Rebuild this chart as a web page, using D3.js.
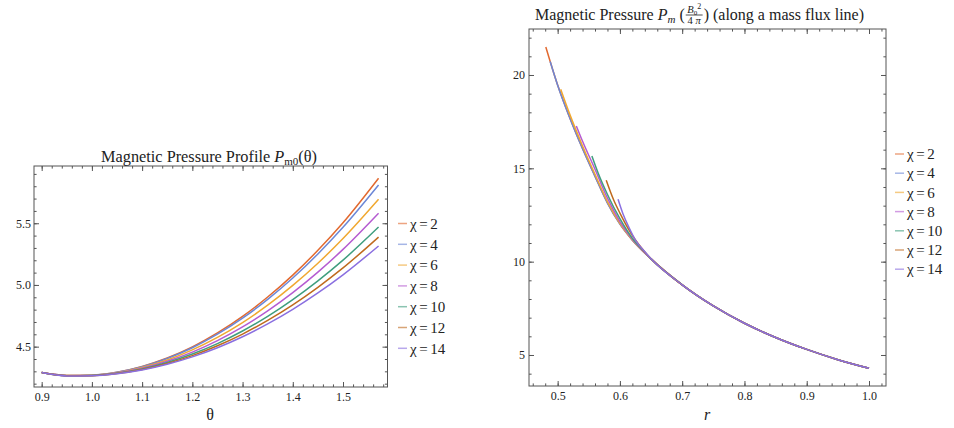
<!DOCTYPE html>
<html>
<head>
<meta charset="utf-8">
<script src="https://cdn.jsdelivr.net/npm/d3@7"></script>
<style>
body{margin:0;background:#fff}
svg{display:block}
text{font-family:"Liberation Serif","Times New Roman",serif;fill:#222}
</style>
</head>
<body>
<div id="chart"></div>
<script>
var chiValues = [2,4,6,8,10,12,14];
var colors = ["#e2692f","#6c87d6","#f0a830","#b55bd1","#3f9e7e","#bf6a1e","#8a6fe0"];

// left panel : P_m0(theta)
var theta = [0.9,0.95,1.0,1.05,1.1,1.15,1.2,1.25,1.3,1.35,1.4,1.45,1.5,1.5708];
var pm0Chi2  = [4.290,4.267,4.269,4.293,4.340,4.408,4.498,4.611,4.745,4.902,5.080,5.281,5.504,5.865];
var pm0Chi4  = [4.290,4.267,4.269,4.292,4.337,4.404,4.491,4.601,4.731,4.883,5.056,5.251,5.467,5.810];
var pm0Chi6  = [4.290,4.266,4.268,4.289,4.331,4.392,4.474,4.575,4.695,4.836,4.996,5.176,5.376,5.694];
var pm0Chi8  = [4.290,4.265,4.266,4.286,4.325,4.381,4.456,4.549,4.660,4.790,4.938,5.104,5.288,5.581];
var pm0Chi10 = [4.290,4.264,4.266,4.284,4.319,4.371,4.440,4.525,4.627,4.745,4.881,5.033,5.201,5.469];
var pm0Chi12 = [4.290,4.264,4.265,4.282,4.315,4.363,4.427,4.507,4.602,4.713,4.839,4.981,5.138,5.388];
var pm0Chi14 = [4.290,4.263,4.265,4.281,4.311,4.357,4.417,4.491,4.580,4.684,4.802,4.935,5.082,5.316];
var thetaTicks = [0.9,1.0,1.1,1.2,1.3,1.4,1.5];
var pm0Ticks = [4.5,5.0,5.5];

// right panel : P_m along a mass flux line
var rTail = [0.65,0.70,0.75,0.80,0.85,0.90,0.95,1.0];
var pTail = [10.15,8.76,7.63,6.70,5.94,5.30,4.75,4.29];
var headChi2  = [[0.481,21.5],[0.50,19.46],[0.52,17.67],[0.54,16.06],[0.56,14.58],[0.58,13.15],[0.60,12.02],[0.62,11.16]];
var headChi4  = [[0.488,20.72],[0.50,19.45],[0.52,17.66],[0.54,16.05],[0.56,14.57],[0.58,13.14],[0.60,12.01],[0.62,11.15]];
var headChi6  = [[0.505,19.23],[0.52,17.85],[0.54,16.2],[0.56,14.68],[0.58,13.22],[0.60,12.05],[0.62,11.16]];
var headChi8  = [[0.530,17.27],[0.54,16.45],[0.56,14.95],[0.58,13.4],[0.60,12.15],[0.62,11.2]];
var headChi10 = [[0.555,15.66],[0.565,14.75],[0.58,13.6],[0.60,12.3],[0.62,11.25],[0.64,10.5]];
var headChi12 = [[0.578,14.36],[0.59,13.3],[0.60,12.6],[0.62,11.4],[0.64,10.52]];
var headChi14 = [[0.597,13.34],[0.605,12.55],[0.615,11.8],[0.625,11.15],[0.64,10.53]];
var rTicks = [0.5,0.6,0.7,0.8,0.9,1.0];
var pmTicks = [5,10,15,20];

var svg = d3.select("#chart").append("svg").attr("width",954).attr("height",428);

function minors(domain, step){
    var out = [];
    var start = Math.ceil(domain[0]/step - 1e-6);
    for(var k=start; k*step<=domain[1]+1e-9; k++){ out.push(+(k*step).toFixed(4)); }
    return out;
}

// frame with inward ticks on the four sides, labels only bottom and left
function drawFrame(x, y, xMajor, yMajor, xStep, yStep, fx, fy, yPad){
    var g = svg.append("g");
    var x0 = x.range()[0], x1 = x.range()[1], y0 = y.range()[0], y1 = y.range()[1];
    var sides = [
        {mk: function(){return d3.axisBottom(x);}, tr: "translate(0,"+y0+")", major: xMajor, step: xStep, dom: x.domain(), fmt: fx, pad: 5.3},
        {mk: function(){return d3.axisTop(x);}, tr: "translate(0,"+y1+")", major: xMajor, step: xStep, dom: x.domain(), fmt: null, pad: 3},
        {mk: function(){return d3.axisLeft(y);}, tr: "translate("+x0+",0)", major: yMajor, step: yStep, dom: y.domain(), fmt: fy, pad: yPad},
        {mk: function(){return d3.axisRight(y);}, tr: "translate("+x1+",0)", major: yMajor, step: yStep, dom: y.domain(), fmt: null, pad: 3}
    ];
    sides.forEach(function(s){
        g.append("g").attr("transform", s.tr)
            .call(s.mk().tickValues(minors(s.dom, s.step)).tickSize(-2.6).tickFormat(""))
            .call(function(a){ a.select(".domain").remove(); a.selectAll("line").attr("stroke","#555"); });
        g.append("g").attr("transform", s.tr)
            .call(s.mk().tickValues(s.major).tickSize(-5).tickPadding(s.pad).tickFormat(s.fmt ? s.fmt : ""))
            .call(function(a){
                a.select(".domain").remove();
                a.selectAll("line").attr("stroke","#555");
                a.attr("font-family",null);
                a.selectAll("text").style("font-family",'"Liberation Serif",serif').style("font-size","12px").attr("fill","#222");
            });
    });
    g.append("rect").attr("x",x0).attr("y",y1).attr("width",x1-x0).attr("height",y0-y1)
        .attr("fill","none").attr("stroke","#555").attr("stroke-width",1);
}

function drawLegend(x, y, step){
    var lg = svg.append("g");
    chiValues.forEach(function(v,i){
        lg.append("line").attr("x1",x).attr("x2",x+9).attr("y1",y+i*step).attr("y2",y+i*step)
            .attr("stroke",colors[i]).attr("stroke-width",1.5).attr("opacity",0.6);
        var t = lg.append("text").attr("x",x+12).attr("y",y+i*step).attr("dy","0.35em")
            .style("font-size","15px");
        t.append("tspan").text("χ");
        t.append("tspan").attr("dx",2.5).text("=");
        t.append("tspan").attr("dx",2.5).text(v);
    });
}

// ---- left panel
var xL = d3.scaleLinear().domain([0.8847,1.5886]).range([34,387.5]);
var yL = d3.scaleLinear().domain([4.173,5.964]).range([387,166]);
var fmt1 = d3.format(".1f");
drawFrame(xL, yL, thetaTicks, pm0Ticks, 0.02, 0.1, fmt1, fmt1, 3);

var pm0Series = [pm0Chi2,pm0Chi4,pm0Chi6,pm0Chi8,pm0Chi10,pm0Chi12,pm0Chi14];
var lineL = d3.line().x(function(d){return xL(d[0]);}).y(function(d){return yL(d[1]);}).curve(d3.curveMonotoneX);
pm0Series.forEach(function(vals,i){
    var pts = theta.map(function(t,j){ return [t, vals[j]]; });
    svg.append("path").attr("d", lineL(pts)).attr("fill","none")
        .attr("stroke",colors[i]).attr("stroke-width",1.5);
});

var tl = svg.append("text").attr("x",209).attr("y",161.5).attr("text-anchor","middle").style("font-size","16.3px");
tl.append("tspan").text("Magnetic Pressure Profile ");
tl.append("tspan").style("font-style","italic").text("P");
tl.append("tspan").attr("dy",3).style("font-size","11px").text("m0");
tl.append("tspan").attr("dy",-3).text("(θ)");
svg.append("text").attr("x",210).attr("y",420).attr("text-anchor","middle").style("font-size","16px").text("θ");
drawLegend(398, 223.5, 20.8);

// ---- right panel
var xR = d3.scaleLinear().domain([0.454,1.0273]).range([529,886]);
var yR = d3.scaleLinear().domain([3.339,22.464]).range([386,29]);
drawFrame(xR, yR, rTicks, pmTicks, 0.02, 1, fmt1, d3.format("d"), 4);

var lineR = d3.line().x(function(d){return xR(d[0]);}).y(function(d){return yR(d[1]);}).curve(d3.curveMonotoneX);
var heads = [headChi2,headChi4,headChi6,headChi8,headChi10,headChi12,headChi14];
heads.forEach(function(head,i){
    var last = head[head.length-1][0];
    var pts = head.concat(rTail.map(function(r,j){return [r,pTail[j]];}).filter(function(p){return p[0]>last;}));
    svg.append("path").attr("d", lineR(pts))
        .attr("fill","none").attr("stroke",colors[i]).attr("stroke-width",1.5);
});

// title with a small fraction B0^2 / 4pi
var tr = svg.append("text").attr("x",535).attr("y",20).style("font-size","16px");
tr.append("tspan").text("Magnetic Pressure ");
tr.append("tspan").style("font-style","italic").text("P");
tr.append("tspan").attr("dy",3).style("font-style","italic").style("font-size","11px").text("m");
tr.append("tspan").attr("dy",-3).text(" (");
var fx = 535 + tr.node().getComputedTextLength() + 1;
var num = svg.append("text").attr("y",12.5).style("font-size","10.5px");
num.append("tspan").style("font-style","italic").text("B");
num.append("tspan").attr("dy",2).style("font-size","7px").text("0");
num.append("tspan").attr("dy",-6).style("font-size","8px").text("2");
var den = svg.append("text").attr("y",23.5).style("font-size","10.5px");
den.append("tspan").text("4 ");
den.append("tspan").style("font-style","italic").text("π");
var fw = Math.max(num.node().getComputedTextLength(), den.node().getComputedTextLength()) + 3;
num.attr("x", fx + (fw-num.node().getComputedTextLength())/2);
den.attr("x", fx + (fw-den.node().getComputedTextLength())/2);
svg.append("line").attr("x1",fx).attr("x2",fx+fw).attr("y1",15).attr("y2",15).attr("stroke","#222").attr("stroke-width",0.8);
svg.append("text").attr("x",fx+fw+1).attr("y",20).style("font-size","16px").text(") (along a mass flux line)");

svg.append("text").attr("x",707).attr("y",420).attr("text-anchor","middle").style("font-size","16px").style("font-style","italic").text("r");
drawLegend(895, 154, 19.2);
</script>
</body>
</html>
